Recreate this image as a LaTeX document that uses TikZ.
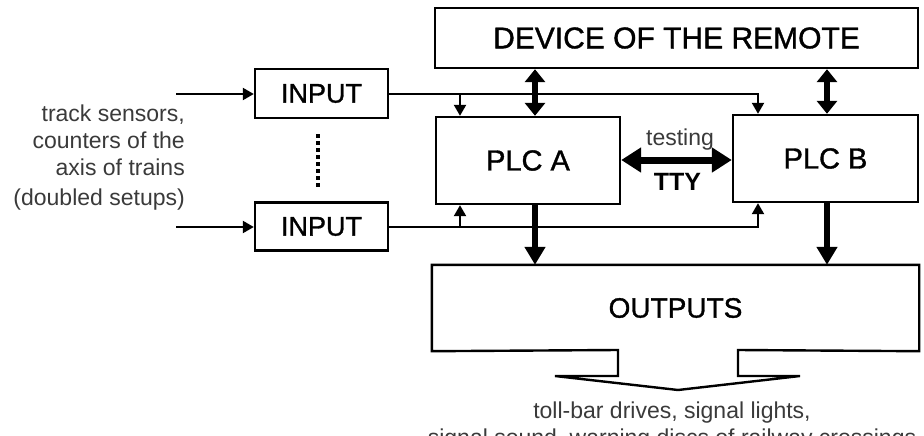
\documentclass[tikz,border=0pt]{standalone}
\usepackage{fontspec}
\setmainfont{Liberation Sans}
\newfontfamily\boxfont{Liberation Sans}[FakeBold=1.2]
\usetikzlibrary{arrows.meta}

\definecolor{notegray}{HTML}{3A3A3A}

\begin{document}
\begin{tikzpicture}[x=1pt,y=-1pt,
  box/.style={draw, line width=2.4pt, inner sep=0pt},
  feed/.style={line width=2.2pt, -{Triangle[length=11pt,width=12pt]}},
  bus/.style={line width=6pt, {Triangle[length=13pt,width=20pt]}-{Triangle[length=13pt,width=20pt]}},
  flow/.style={line width=6pt, -{Triangle[length=18pt,width=20pt]}},
  link/.style={line width=7pt, {Triangle[length=20pt,width=24pt]}-{Triangle[length=20pt,width=24pt]}},
  note/.style={text=notegray, font=\fontsize{23}{27}\selectfont, inner sep=0pt}]

\useasboundingbox (0,0) rectangle (924,436);

% blocks
\node[box, minimum width=483pt, minimum height=60pt, font=\boxfont\fontsize{30}{32}\selectfont]
  (remote) at (676.5,38) {DEVICE OF THE REMOTE};
\node[box, minimum width=184pt, minimum height=87pt, font=\boxfont\fontsize{29}{31}\selectfont]
  (plcA) at (528,160.5) {PLC A};
\node[box, minimum width=185pt, minimum height=87pt, font=\boxfont\fontsize{29}{31}\selectfont]
  (plcB) at (825.5,158.5) {PLC B};
\node[box, minimum width=133pt, minimum height=49pt, font=\boxfont\fontsize{27}{29}\selectfont]
  (inTop) at (321.5,93.5) {INPUT};
\node[box, minimum width=133pt, minimum height=48pt, font=\boxfont\fontsize{27}{29}\selectfont]
  (inBot) at (321.5,226.5) {INPUT};
\node[box, draw=none, minimum width=485pt, minimum height=84pt, font=\boxfont\fontsize{28}{30}\selectfont]
  (outs) at (675.5,308) {OUTPUTS};

% outputs block with its outlet arrow
\draw[line width=2.4pt, line join=miter]
  (618,350) -- (outs.south west) -- (outs.north west) -- (outs.north east)
  -- (outs.south east) -- (738,350) -- (738,376) -- (800,376) -- (678,390)
  -- (555,376) -- (618,376) -- cycle;

% sensor inputs
\coordinate (srcTop) at (176,94);
\coordinate (srcBot) at (176,227);
\draw[feed] (srcTop) -- (srcTop -| inTop.west);
\draw[feed] (srcBot) -- (srcBot -| inBot.west);

% input buses to both PLCs
\coordinate (tapA1) at (460,94);
\coordinate (tapB1) at (758,94);
\coordinate (tapA2) at (460,227);
\coordinate (tapB2) at (758,227);
\draw[feed] (inTop.east |- tapB1) -- (tapB1) -- (tapB1 |- plcB.north);
\draw[feed] (tapA1) -- (tapA1 |- plcA.north);
\draw[feed] (inBot.east |- tapB2) -- (tapB2) -- (tapB2 |- plcB.south);
\draw[feed] (tapA2) -- (tapA2 |- plcA.south);

% remote device links and outputs
\coordinate (ioA) at (535,0);
\coordinate (ioB) at (827,0);
\draw[bus] (remote.south -| ioA) -- (plcA.north -| ioA);
\draw[bus] (remote.south -| ioB) -- (plcB.north -| ioB);
\draw[flow] (plcA.south -| ioA) -- (outs.north -| ioA);
\draw[flow] (plcB.south -| ioB) -- (outs.north -| ioB);

% cross link between PLCs
\coordinate (lk) at (0,160);
\draw[link] (plcA.east |- lk) -- (plcB.west |- lk);
\node[note, anchor=base] (testing) at (680,145) {testing};
\node[anchor=base, inner sep=0pt, font=\fontsize{25}{27}\selectfont\bfseries] (tty) at (677.5,190) {TTY};

% repeated inputs
\coordinate (dotX) at (318,0);
\draw[line width=4.5pt, dash pattern=on 4pt off 3pt, shorten <=15pt, shorten >=12pt]
  (inTop.south -| dotX) -- (inBot.north -| dotX);

% descriptions (base anchor sits on the last line)
\node[note, align=right, anchor=base east] (sensors) at (185,205)
  {track sensors,\\counters of the\\axis of trains\\[3pt](doubled setups)};
\node[note, align=center, anchor=base] (actuators) at (672,445)
  {toll-bar drives, signal lights,\\signal sound, warning discs of railway crossings};
\end{tikzpicture}
\end{document}
